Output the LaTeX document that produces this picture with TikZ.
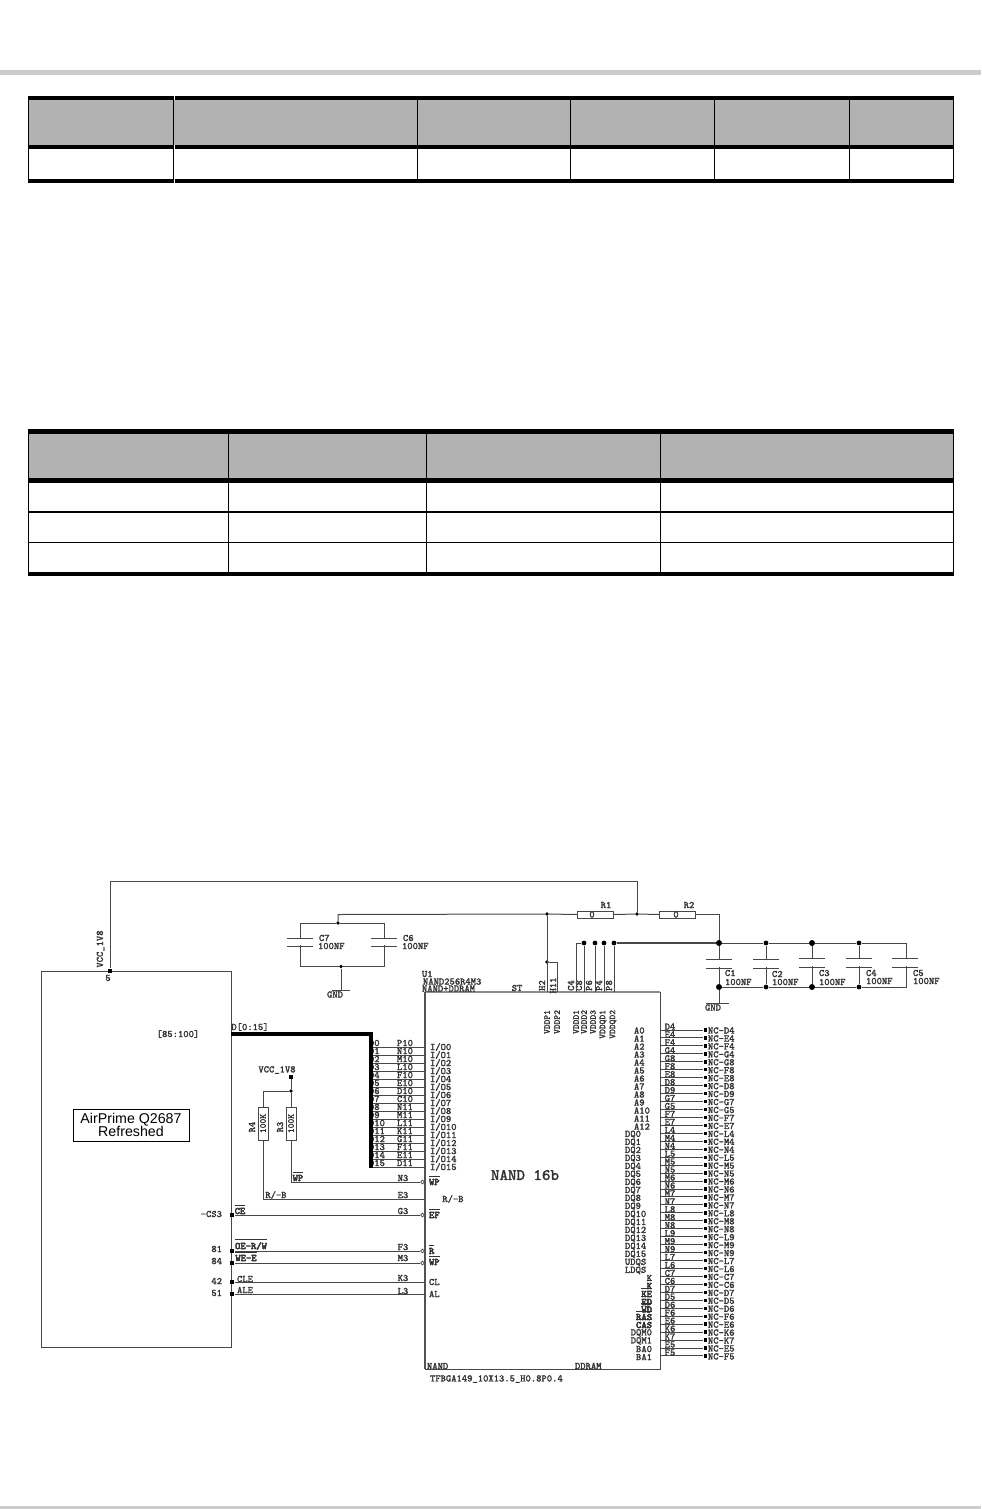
\documentclass[tikz,border=0pt]{standalone}
\usepackage{fontspec}
\newfontfamily\boxfont{Liberation Sans}
\newfontfamily\pinfont[FakeBold=1.6]{Latin Modern Mono}
\newcommand{\ovl}[1]{\leavevmode\rlap{\smash{$\overline{\hbox{#1}}$}}#1}
\tikzset{
  wire/.style={draw=black!72,line width=0.5pt},
  lbl/.style={inner sep=0pt,outer sep=0pt,text=black!80,font=\pinfont\fontsize{5}{6}\selectfont},
  dotnode/.style={circle,fill=black,inner sep=0pt,minimum size=2.2pt},
  squarenode/.style={rectangle,fill=black,inner sep=0pt,minimum size=2.2pt},
  invnode/.style={circle,draw=black!72,fill=white,line width=0.35pt,inner sep=0pt,minimum size=1.8pt},
  partbox/.style={rectangle,draw=black!72,line width=0.5pt,inner sep=0pt,outer sep=0pt},
}
\begin{document}
\begin{tikzpicture}[x=0.5pt,y=-0.5pt]
\useasboundingbox (0,0) rectangle (981,1509);

% page bands
\fill[black!20] (0,70.5) rectangle (981,75);
\fill[black!20] (0,1506) rectangle (981,1509);

% first table
\fill[black!30] (28,98) rectangle (954,147);
\fill (28,96.5) rectangle (954,100);
\fill (28,145) rectangle (954,149);
\fill (28,179) rectangle (954,183);
\foreach \cx in {173,417,570,714,849}
  \draw[line width=0.5pt] (\cx,98) -- (\cx,181);
\draw[line width=0.5pt] (28.3,98) -- (28.3,181);
\draw[line width=0.5pt] (953.7,98) -- (953.7,181);
\foreach \by/\bz in {96.5/100,145/149,179/183}
  \draw[white,line width=0.25pt] (174.3,\by) -- (174.3,\bz);

% second table
\fill[black!30] (28,431) rectangle (954,481);
\fill (28,429.3) rectangle (954,433.7);
\fill (28,478.2) rectangle (954,483);
\fill (28,572) rectangle (954,576);
\draw[line width=0.9pt] (28,511.8) -- (954,511.8);
\draw[line width=0.5pt] (28,542.3) -- (954,542.3);
\foreach \cx in {228.5,426,660}
  \draw[line width=0.5pt] (\cx,431) -- (\cx,574);
\draw[line width=0.5pt] (28.5,431) -- (28.5,574);
\draw[line width=0.5pt] (953.7,431) -- (953.7,574);

% main parts
\node[partbox,minimum width=95pt,minimum height=188pt] (Q2687) at (136,1159) {};
\node[partbox,line width=0.5pt,minimum width=117.5pt,minimum height=188.5pt] (U1) at (542.5,1180.5) {};
\draw[black!45,line width=0.8pt] (U1.north west) -- (U1.north east);
\draw[black!68,line width=1pt] (U1.north west) -- (U1.south west);
\node[rectangle,draw=black,line width=0.5pt,inner sep=0pt,minimum width=58pt,minimum height=16pt,align=center,
  font=\boxfont\fontsize{7.1}{6.6}\selectfont] (Qname) at (131,1125) {AirPrime Q2687\\Refreshed};
\node[lbl,font=\pinfont\fontsize{8}{9}\selectfont] (Uname) at (525,1175) {NAND 16b};

% supply from the module
\node[squarenode] (Qvcc) at (110,971) {};
\coordinate (vccturn) at (637,881);
\node[dotnode,minimum size=1.8pt] (Rtap) at (637,914) {};
\draw[wire] (Qvcc) |- (vccturn) -- (Rtap);
\node[lbl,rotate=90] (vccA) at (100.5,949) {VCC\_1V8};
\node[lbl] (pinfive) at (108,978) {5};

% R1 R2
\node[partbox,minimum width=18pt,minimum height=3.5pt] (R1) at (595,914.5) {};
\node[partbox,minimum width=18pt,minimum height=3.5pt] (R2) at (677,914.5) {};
\node[lbl] (R1name) at (606,905) {R1};
\node[lbl] (R2name) at (689,905) {R2};
\node[lbl] (R1val) at (592,914.5) {0};
\node[lbl] (R2val) at (676,914.5) {0};
\node[dotnode,minimum size=1.8pt] (Ctop) at (338,923) {};
\node[dotnode,minimum size=1.8pt] (Htap) at (547,914) {};
\coordinate (Cturn) at (338,914.5);
\draw[wire] (Ctop) -- (Cturn) -- (Htap) -- (R1.west);
\draw[wire] (R1.east) -- (Rtap) -- (R2.west);

% C7 C6
\node[dotnode,minimum size=1.8pt] (Cbot) at (341,966.5) {};
\coordinate (C7top) at (300,923);
\coordinate (C6top) at (384,923);
\coordinate (C7bot) at (300,966.5);
\coordinate (C6bot) at (384,966.5);
\draw[wire] (Ctop) -- (C7top) -- (C7bot) -- (Cbot) -- (C6bot) -- (C6top) -- (Ctop);
\foreach \cx/\cn in {300/C7,384/C6}{
  \fill[white] (\cx-2,939) rectangle (\cx+2,945);
  \draw[wire] (\cx-13,938) -- (\cx+13,938);
  \draw[wire] (\cx-13,946) -- (\cx+13,946);
  \node[lbl,anchor=west] (name\cn) at (\cx+19,938) {\cn};
  \node[lbl,anchor=west] (val\cn) at (\cx+18,946) {100NF};
}
\node[lbl] (gndA) at (335,994.5) {GND};
\coordinate (gndAtop) at (341,990.5);
\draw[wire] (Cbot) -- (gndAtop);
\draw[wire] (332,990.5) -- (350,990.5);

% top pins of U1
\node[dotnode,minimum size=1.8pt] (H11tap) at (547,962) {};
\coordinate (H2top) at (547,992);
\coordinate (H11top) at (557,992);
\draw[wire] (Htap) -- (H2top);
\draw[wire] (H11tap) -| (H11top);
\foreach \px/\pn in {542/H2,553/H11,571/C4,579/C8,589/P6,599/P4,609/P8}
  \node[lbl,rotate=90] (top\pn) at (\px,985.5) {\pn};
\foreach \px/\pn in {547/VDDP1,557/VDDP2,576/VDDD1,584/VDDD2,593/VDDD3,603/VDDQD1,613/VDDQD2}
  \node[lbl,rotate=90,anchor=east,font=\pinfont\fontsize{4.5}{5}\selectfont] (in\pn) at (\px,1010) {\pn};
\foreach \px/\pn in {584/C8,595/P6,604/P4,614/P8}{
  \node[dotnode,minimum size=2.4pt] (bus\pn) at (\px,943) {};
  \coordinate (pin\pn) at (\px,992);
  \draw[wire] (bus\pn) -- (pin\pn);
}
\coordinate (pinCfour) at (576.5,992);
\coordinate (railL) at (576.5,943);
\draw[wire] (pinCfour) -- (railL) -- (busC8);

% C1 to C5
\node[dotnode,minimum size=3pt] (capA) at (719,943) {};
\node[dotnode,minimum size=2.4pt] (capB) at (766,943) {};
\node[dotnode,minimum size=3pt] (capC) at (812,943) {};
\node[dotnode,minimum size=2.4pt] (capD) at (859,943) {};
\coordinate (capE) at (906,943);
\node[dotnode,minimum size=3pt] (botA) at (719,987) {};
\node[dotnode,minimum size=2.4pt] (botB) at (766,987) {};
\node[dotnode,minimum size=3pt] (botC) at (812,987) {};
\node[dotnode,minimum size=2.4pt] (botD) at (859,987) {};
\coordinate (botE) at (906,987);
\draw[wire,line width=0.7pt] (busP8) -- (capA);
\draw[wire] (capA) -- (capB) -- (capC) -- (capD) -- (capE) -- (botE) -- (botD) -- (botC) -- (botB) -- (botA);
\draw[wire] (R2.east) -| (capA);
\foreach \cp in {A,B,C,D}
  \draw[wire] (cap\cp) -- (bot\cp);
\foreach \cx/\pt/\cn in {719/959/C1,766/959/C2,812/958/C3,859/958/C4,905/958/C5}{
  \fill[white] (\cx-3,\pt+1) rectangle (\cx+3,\pt+8);
  \draw[wire] (\cx-13,\pt) -- (\cx+13,\pt);
  \draw[wire] (\cx-13,\pt+9) -- (\cx+13,\pt+9);
}
\foreach \lx/\ly/\cn in {725/973/C1,772/974/C2,819/973/C3,866/973/C4,913/973/C5}
  \node[lbl,anchor=west] (name\cn) at (\lx,\ly) {\cn};
\foreach \lx/\ly/\cn in {725/982/C1,772/982/C2,819/982/C3,866/981/C4,913/981/C5}
  \node[lbl,anchor=west] (val\cn) at (\lx,\ly) {100NF};
\coordinate (gndBtop) at (719,1003);
\draw[wire] (botA) -- (gndBtop);
\draw[wire] (706,1003) -- (729,1003);
\node[lbl] (gndB) at (713,1007.5) {GND};

% U1 names
\node[lbl,anchor=west] (refU) at (422,974) {U1};
\node[lbl,anchor=west] (partU) at (423,981.5) {NAND256R4M3};
\node[lbl,anchor=west] (typeU) at (422,988.5) {NAND+DDRAM};
\node[lbl] (stU) at (517,988) {ST};
\node[lbl,anchor=west] (nandU) at (427,1366) {NAND};
\node[lbl,anchor=west] (ddrU) at (575,1366) {DDRAM};
\node[lbl,anchor=west] (caseU) at (430,1379) {TFBGA149\_10X13.5\_H0.8P0.4};

% data bus
\coordinate (busA) at (371,1034);
\coordinate (busB) at (371,1168);
\node[lbl] (busname) at (250,1027) {D[0:15]};
\node[lbl] (busrange) at (178,1034) {[85:100]};
\foreach \i/\p in {0/P10,1/N10,2/M10,3/L10,4/F10,5/E10,6/D10,7/C10,8/N11,9/M11,10/L11,11/K11,12/G11,13/F11,14/E11,15/D11}{
  \coordinate (busp\i) at (371,{1047+8*\i});
  \coordinate (io\i) at (425,{1047+8*\i});
  \draw[wire] (busp\i) -- (io\i);
  \node[lbl,anchor=west] (dn\i) at (369,{1043+8*\i}) {D\i};
  \node[lbl] (ball\i) at (405,{1043+8*\i}) {\p};
  \node[lbl,anchor=west] (ion\i) at (430,{1047+8*\i}) {I/O\i};
}
\draw[line width=2.1pt,line join=miter] (Q2687.east |- busA) -- (busA) -- (busB);

% pull ups
\node[lbl] (vccB) at (277,1070) {VCC\_1V8};
\node[squarenode,minimum size=1.8pt] (vccBpin) at (291,1077) {};
\node[dotnode,minimum size=1.8pt] (pulltap) at (291,1091) {};
\node[partbox,minimum width=5pt,minimum height=16.5pt] (R4) at (263,1123.5) {};
\node[partbox,minimum width=5pt,minimum height=16.5pt] (R3) at (291,1123.5) {};
\node[lbl,rotate=90,font=\pinfont\fontsize{4.5}{5}\selectfont] (R4val) at (263,1123.5) {100K};
\node[lbl,rotate=90,font=\pinfont\fontsize{4.5}{5}\selectfont] (R3val) at (291,1123.5) {100K};
\node[lbl,rotate=90] (R4name) at (252,1127) {R4};
\node[lbl,rotate=90] (R3name) at (280,1127) {R3};
\draw[wire] (vccBpin) -- (pulltap) -- (R3.north);
\draw[wire] (pulltap) -| (R4.north);

% control lines
\node[invnode] (invWP) at (422.5,1182) {};
\node[invnode] (invEF) at (422.5,1215) {};
\node[invnode] (invR) at (422.5,1251) {};
\node[invnode] (invWE) at (422.5,1263) {};
\coordinate (endRB) at (425,1199);
\coordinate (endCL) at (425,1282);
\coordinate (endAL) at (425,1294);
\draw[wire] (R3.south) |- (invWP);
\draw[wire] (R4.south) |- (endRB);
\node[squarenode] (qCE) at (232,1215) {};
\node[squarenode] (qOE) at (232,1251) {};
\node[squarenode] (qWE) at (232,1263) {};
\node[squarenode] (qCLE) at (232,1282) {};
\node[squarenode] (qALE) at (232,1294) {};
\draw[wire] (qCE) -- (invEF);
\draw[wire] (qOE) -- (invR);
\draw[wire] (qWE) -- (invWE);
\draw[wire] (qCLE) -- (endCL);
\draw[wire] (qALE) -- (endAL);
\foreach \nm/\lx/\ly/\tx in {a/298/1178/{\ovl{WP}},b/276/1195/{R/-B},c/240/1211/{\ovl{CE}},d/251/1246/{\ovl{OE-R/W}},e/246/1258/{\ovl{WE-E}},f/245/1279/{CLE},g/245/1290/{ALE}}
  \node[lbl] (ctl\nm) at (\lx,\ly) {\tx};
\foreach \nm/\ly in {N3/1178,E3/1195,G3/1211,F3/1247,M3/1258,K3/1278,L3/1291}
  \node[lbl] (ball\nm) at (403,\ly) {\nm};
\foreach \nm/\ly/\tx in {a/1182/{\ovl{WP}},c/1215/{\ovl{EF}},d/1251/{\ovl{R}},e/1262/{\ovl{WP}},f/1282/{CL},g/1294/{AL}}
  \node[lbl,anchor=west] (inn\nm) at (429,\ly) {\tx};
\node[lbl] (innb) at (453,1199) {R/-B};
\foreach \nm/\ly/\tx in {cs/1214/{-CS3},oe/1249/{81},we/1261/{84},cl/1281/{42},al/1293/{51}}
  \node[lbl,anchor=east] (num\nm) at (222,\ly) {\tx};

% DDRAM side
\foreach \i in {0,...,12}
  \node[lbl,anchor=west] (addr\i) at (634,{1030.5+8*\i}) {A\i};
\foreach \i in {0,...,15}
  \node[lbl,anchor=west] (dq\i) at (625,{1134.5+8*\i}) {DQ\i};
\node[lbl,anchor=west] (udqs) at (625,1262.5) {UDQS};
\node[lbl,anchor=west] (ldqs) at (625,1270.5) {LDQS};
\foreach \nm/\ly/\tx in {a/1278/{K},b/1286/{\ovl{K}},c/1294/{\ovl{KE}},d/1302/{\ovl{ED}},e/1309.5/{\ovl{WD}},f/1317/{\ovl{RAS}},g/1325/{\ovl{CAS}},h/1333/{DQM0},i/1341/{DQM1},j/1349/{BA0},k/1357/{BA1}}
  \node[lbl,anchor=east] (ctr\nm) at (652,\ly) {\tx};
\foreach \i/\p in {0/D4,1/E4,2/F4,3/G4,4/G8,5/F8,6/E8,7/D8,8/D9,9/G7,10/G5,11/F7,12/E7,13/L4,14/M4,15/N4,16/L5,17/M5,18/N5,19/M6,20/N6,21/M7,22/N7,23/L8,24/M8,25/N8,26/L9,27/M9,28/N9,29/L7,30/L6,31/C7,32/C6,33/D7,34/D5,35/D6,36/F6,37/E6,38/K6,39/K7,40/E5,41/F5}{
  \coordinate (dd\i) at (660,{1030+7.95*\i});
  \node[squarenode,minimum size=1.7pt] (nc\i) at (705.5,{1030+7.95*\i}) {};
  \draw[wire] (dd\i) -- (nc\i);
  \node[lbl] (ballr\i) at (670,{1026.5+7.95*\i}) {\p};
  \node[lbl,anchor=west] (ncn\i) at (708,{1030.5+7.95*\i}) {NC-\p};
}
\end{tikzpicture}
\end{document}
